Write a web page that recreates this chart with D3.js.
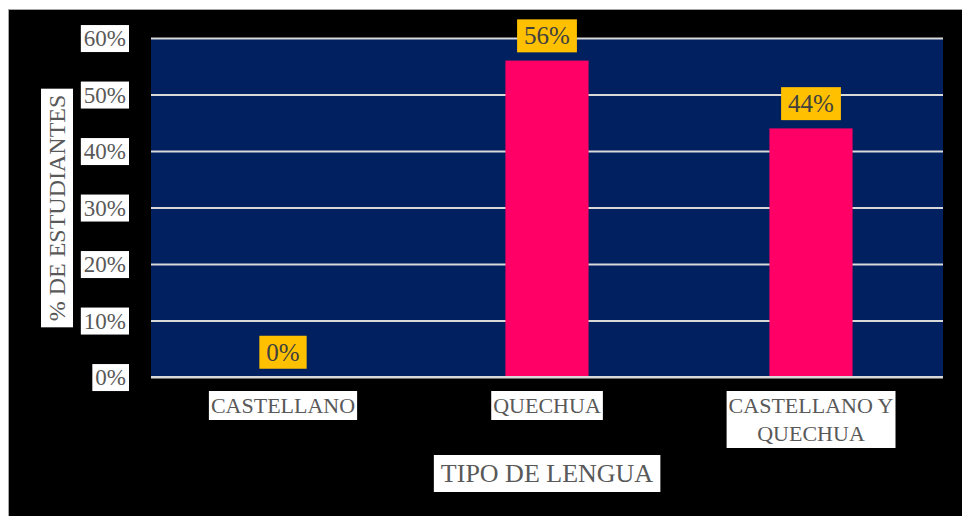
<!DOCTYPE html>
<html>
<head>
<meta charset="utf-8">
<script src="https://cdn.jsdelivr.net/npm/d3@7"></script>
<style>
  body { margin: 0; background: #fff; }
  text { font-family: "Liberation Serif", "DejaVu Serif", serif; }
</style>
</head>
<body>
<div id="chart"></div>
<script>
// chart values
var categories = ["CASTELLANO", "QUECHUA", "CASTELLANO Y QUECHUA"];
var values = [0, 0.56, 0.44];
var yTicks = [0, 0.1, 0.2, 0.3, 0.4, 0.5, 0.6];
var yTitle = "% DE ESTUDIANTES";
var xTitle = "TIPO DE LENGUA";

var svgWidth = 962, svgHeight = 516;
var plot = { left: 151, right: 943, top: 38, bottom: 377 };

var svg = d3.select("#chart").append("svg")
    .attr("width", svgWidth)
    .attr("height", svgHeight);

// black chart background with thin grey frame
svg.append("rect")
    .attr("x", 8.5).attr("y", 9.5)
    .attr("width", 962).attr("height", 514)
    .attr("fill", "#000")
    .attr("stroke", "#a6a6a6");

var x = d3.scaleBand()
    .domain(categories)
    .range([plot.left, plot.right])
    .paddingInner(0.685)
    .paddingOuter(0.3425);

var y = d3.scaleLinear()
    .domain([0, 0.6])
    .range([plot.bottom, plot.top]);

// plot area
svg.append("rect")
    .attr("x", plot.left).attr("y", plot.top)
    .attr("width", plot.right - plot.left)
    .attr("height", plot.bottom - plot.top)
    .attr("fill", "#002060");

// gridlines
svg.append("g")
    .attr("transform", `translate(${plot.left},0)`)
    .call(d3.axisLeft(y).tickValues(yTicks).tickSize(-(plot.right - plot.left)).tickFormat(""))
    .call(g => g.select(".domain").remove())
    .call(g => g.selectAll("line").attr("stroke", "#d9d9d9").attr("stroke-width", 2));

// helper: put a box behind a text node
function boxBehind(textSel, fill, padX, padY) {
    textSel.each(function() {
        var bb = this.getBBox();
        d3.select(this.parentNode).insert("rect", "text")
            .attr("x", bb.x - padX).attr("y", bb.y - padY)
            .attr("width", bb.width + 2 * padX).attr("height", bb.height + 2 * padY)
            .attr("fill", fill);
    });
}

// y tick labels
var yLab = svg.append("g").selectAll("g")
    .data(yTicks).enter().append("g");
yLab.append("text")
    .attr("x", plot.left - 25)
    .attr("y", d => y(d))
    .attr("dy", "0.35em")
    .attr("text-anchor", "end")
    .attr("font-size", 23)
    .attr("fill", "#595959")
    .text(d => d3.format(".0%")(d));
boxBehind(yLab.select("text"), "#fff", 3, 1);

// bars
svg.append("g").selectAll("rect")
    .data(values).enter().append("rect")
    .attr("x", (d, i) => x(categories[i]))
    .attr("y", d => y(d))
    .attr("width", x.bandwidth())
    .attr("height", d => y(0) - y(d))
    .attr("fill", "#ff0066");

// data labels
var dLab = svg.append("g").selectAll("g")
    .data(values).enter().append("g");
dLab.append("text")
    .attr("x", (d, i) => x(categories[i]) + x.bandwidth() / 2)
    .attr("y", d => y(d) - 25)
    .attr("dy", "0.35em")
    .attr("text-anchor", "middle")
    .attr("font-size", 25)
    .attr("fill", "#404040")
    .text(d => d3.format(".0%")(d));
boxBehind(dLab.select("text"), "#ffc000", 7, 3);

// x axis line
svg.append("line")
    .attr("x1", plot.left).attr("x2", plot.right)
    .attr("y1", y(0)).attr("y2", y(0))
    .attr("stroke", "#d9d9d9").attr("stroke-width", 2);

// category labels
var cLab = svg.append("g").selectAll("g")
    .data(categories).enter().append("g");
cLab.append("text")
    .attr("text-anchor", "middle")
    .attr("font-size", 22)
    .attr("fill", "#595959")
    .each(function(d) {
        var t = d3.select(this);
        var cx = x(d) + x.bandwidth() / 2;
        var lines = d === "CASTELLANO Y QUECHUA" ? ["CASTELLANO Y", "QUECHUA"] : [d];
        lines.forEach(function(l, i) {
            t.append("tspan").attr("x", cx).attr("y", 413 + i * 28).text(l);
        });
    });
boxBehind(cLab.select("text"), "#fff", 2, 2);

// axis titles
var xt = svg.append("g");
xt.append("text")
    .attr("x", (plot.left + plot.right) / 2)
    .attr("y", 482)
    .attr("text-anchor", "middle")
    .attr("font-size", 26)
    .attr("fill", "#595959")
    .text(xTitle);
boxBehind(xt.select("text"), "#fff", 7, 4);

var yt = svg.append("g").attr("transform", "translate(65,208) rotate(-90)");
yt.append("text")
    .attr("x", 0).attr("y", 0)
    .attr("text-anchor", "middle")
    .attr("font-size", 24)
    .attr("fill", "#595959")
    .text(yTitle);
boxBehind(yt.select("text"), "#fff", 6, 3);
</script>
</body>
</html>
